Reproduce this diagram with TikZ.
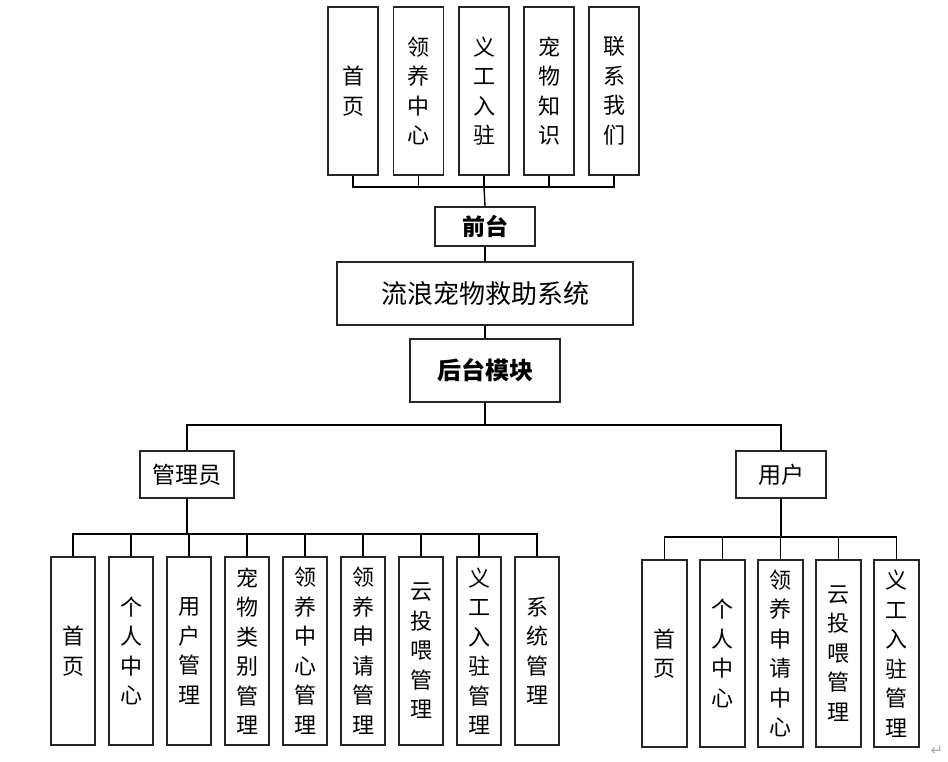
\documentclass[tikz,border=0pt]{standalone}
\usepackage{fontspec}
\newfontfamily\cjk{Noto Sans CJK SC}
\newfontfamily\symf{DejaVu Sans}
\begin{document}
\begin{tikzpicture}[x=1pt,y=-1pt,
  box/.style={draw=black!85, line width=1.6pt, fill=white, inner sep=0pt, align=center,
    font=\cjk\fontsize{22}{29.5}\selectfont},
  link/.style={draw=black, line width=1.4pt},
  thick link/.style={draw=black, line width=2.6pt}]
\useasboundingbox (0,0) rectangle (948,762);

% front-end pages
\node[box, minimum width=50pt, minimum height=168pt] (t1) at (353,91) {首\\页};
\node[box, minimum width=50pt, minimum height=168pt] (t2) at (418.5,91) {领\\养\\中\\心};
\node[box, minimum width=50pt, minimum height=168pt] (t3) at (484,91) {义\\工\\入\\驻};
\node[box, minimum width=50pt, minimum height=168pt] (t4) at (549,91) {宠\\物\\知\\识};
\node[box, minimum width=50pt, minimum height=168pt] (t5) at (614,91) {联\\系\\我\\们};

\node[box, minimum width=100pt, minimum height=39pt, font=\cjk\bfseries\fontsize{23}{26}\selectfont] (qt) at (485,226.5) {前台};
\node[box, minimum width=296pt, minimum height=63pt, font=\cjk\fontsize{26}{30}\selectfont] (sys) at (485,293.5) {流浪宠物救助系统};
\node[box, minimum width=150pt, minimum height=63pt, font=\cjk\bfseries\fontsize{24}{28}\selectfont] (ht) at (485,370.5) {后台模块};

\node[box, minimum width=94pt, minimum height=47pt, font=\cjk\fontsize{23}{26}\selectfont] (adm) at (187,474.5) {管理员};
\node[box, minimum width=90pt, minimum height=47pt, font=\cjk\fontsize{23}{26}\selectfont] (usr) at (781,474.5) {用户};

% admin children
\node[box, minimum width=44pt, minimum height=188pt] (a1) at (73,651) {首\\页};
\node[box, minimum width=44pt, minimum height=188pt] (a2) at (131,651) {个\\人\\中\\心};
\node[box, minimum width=44pt, minimum height=188pt] (a3) at (189,651) {用\\户\\管\\理};
\node[box, minimum width=44pt, minimum height=188pt] (a4) at (247,651) {宠\\物\\类\\别\\管\\理};
\node[box, minimum width=44pt, minimum height=188pt] (a5) at (305,651) {领\\养\\中\\心\\管\\理};
\node[box, minimum width=44pt, minimum height=188pt] (a6) at (363,651) {领\\养\\申\\请\\管\\理};
\node[box, minimum width=44pt, minimum height=188pt] (a7) at (421,651) {云\\投\\喂\\管\\理};
\node[box, minimum width=44pt, minimum height=188pt] (a8) at (479,651) {义\\工\\入\\驻\\管\\理};
\node[box, minimum width=44pt, minimum height=188pt] (a9) at (537,651) {系\\统\\管\\理};

% user children
\node[box, minimum width=45pt, minimum height=187pt] (u1) at (664.5,653.5) {首\\页};
\node[box, minimum width=45pt, minimum height=187pt] (u2) at (722.5,653.5) {个\\人\\中\\心};
\node[box, minimum width=45pt, minimum height=187pt] (u3) at (780.5,653.5) {领\\养\\申\\请\\中\\心};
\node[box, minimum width=45pt, minimum height=187pt] (u4) at (838.5,653.5) {云\\投\\喂\\管\\理};
\node[box, minimum width=45pt, minimum height=187pt] (u5) at (896.5,653.5) {义\\工\\入\\驻\\管\\理};

\node[text=black!35, font=\symf\fontsize{15}{15}\selectfont, inner sep=0pt] (ret) at (937,751) {↵};

% bus coordinates
\coordinate (tb) at (484,187);
\coordinate (hb) at (485,425);
\coordinate (ab) at (187,534);
\coordinate (ub) at (781,537);

% connectors
\foreach \n in {t1,t2,t3,t4,t5} \draw[link] (\n.south) |- (tb);
\draw[link] (tb) -- (qt.north);
\draw[link] (qt.south) -- (sys.north);
\draw[link] (sys.south) -- (ht.north);
\draw[link] (ht.south) -- (hb);
\draw[link] (hb) -| (adm.north);
\draw[link] (hb) -| (usr.north);

\draw[thick link] (adm.south) -- (ab);
\foreach \n in {a1,a2,a3,a4,a5,a6,a7,a8,a9} \draw[link] (\n.north) |- (ab);

\draw[thick link] (usr.south) -- (ub);
\foreach \n in {u1,u2,u3,u4,u5} \draw[link] (\n.north) |- (ub);
\end{tikzpicture}
\end{document}
